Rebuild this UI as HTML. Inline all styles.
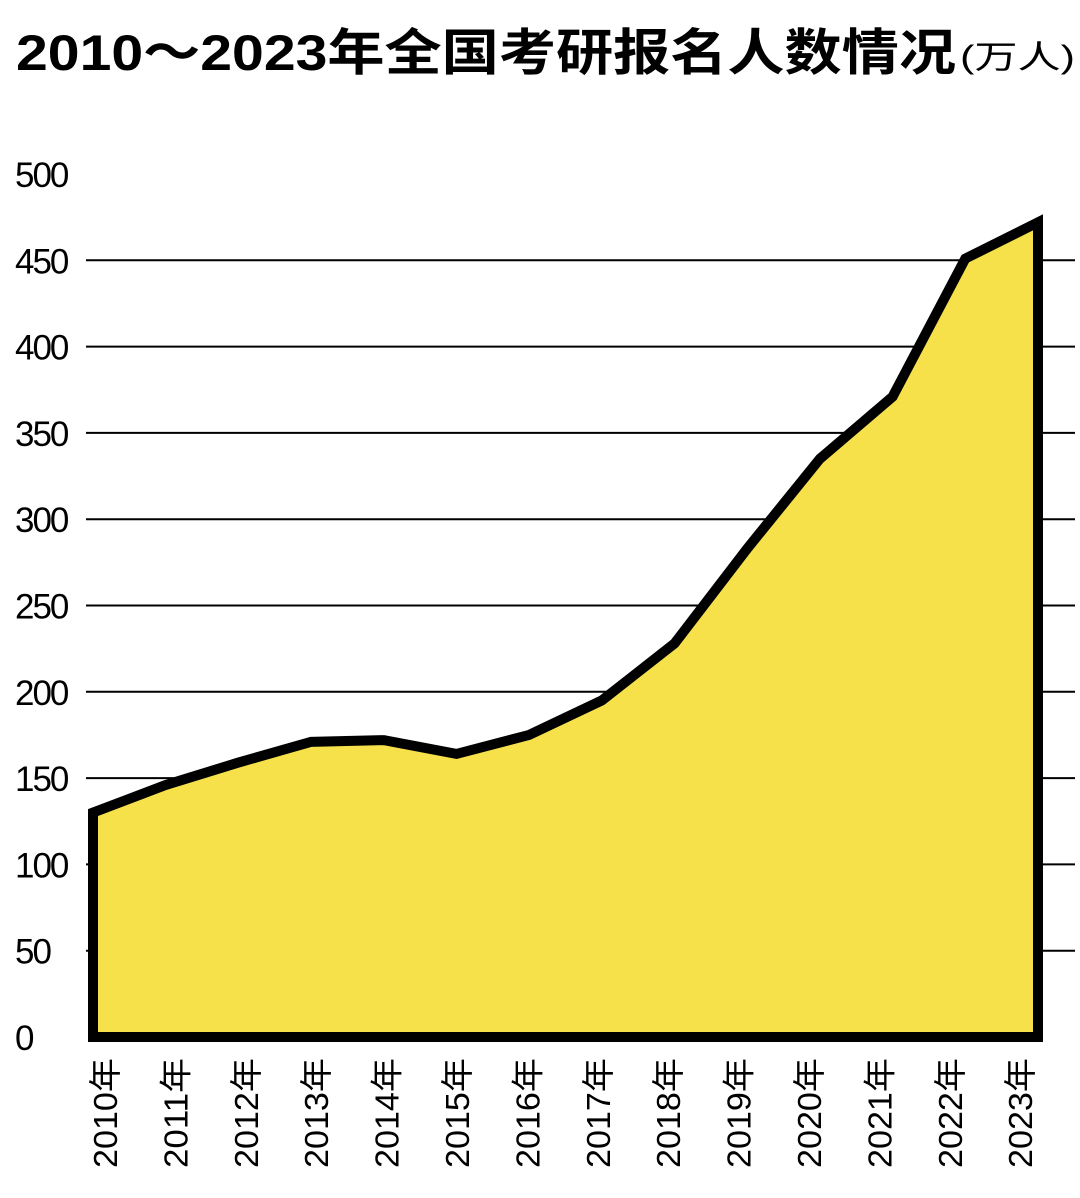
<!DOCTYPE html>
<html><head><meta charset="utf-8"><style>
html,body{margin:0;padding:0;background:#fff;width:1080px;height:1198px;overflow:hidden}
svg{display:block}
text{font-family:"Liberation Sans","Noto Sans CJK SC",sans-serif}
</style></head><body>
<svg id="chart" width="1080" height="1198" viewBox="0 0 1080 1198" xmlns="http://www.w3.org/2000/svg">
<text x="16" y="70" font-size="50" font-weight="bold" textLength="940" lengthAdjust="spacingAndGlyphs">2010～2023年全国考研报名人数情况</text>
<text x="960" y="68" font-size="32" textLength="115" lengthAdjust="spacingAndGlyphs">(万人)</text>
<g id="grid"></g>
<g id="area"></g>
<g id="yticks"></g>
<g id="xticks"></g>
</svg>
<script>
const categories = ["2010年","2011年","2012年","2013年","2014年","2015年","2016年","2017年","2018年","2019年","2020年","2021年","2022年","2023年"];
const values = [130,146,159,171,172,164,175,195,228,283,335,371,451,472];
const yTicks = [0,50,100,150,200,250,300,350,400,450,500];

const NS="http://www.w3.org/2000/svg";
const y0=1037, pxPerUnit=1.726;
const yScale=v=>y0-v*pxPerUnit;
const x0=93, x1=1038;
const xScale=i=>x0+i*(x1-x0)/(categories.length-1);
function mk(t,a){const e=document.createElementNS(NS,t);for(const k in a)e.setAttribute(k,a[k]);return e;}

const grid=document.getElementById('grid');
const yt=document.getElementById('yticks');
yTicks.forEach(v=>{
  const y=yScale(v);
  if(v>0&&v<500){
    const l=mk('line',{x1:86,x2:1075,y1:y,y2:y,stroke:'#000','stroke-width':2});
    
    
    grid.appendChild(l);
  }
  const t=mk('text',{x:15,y:y+13,'font-size':35,fill:'#000','letter-spacing':-2});
  
  
  t.textContent=v;
  yt.appendChild(t);
});

const area=document.getElementById('area');
let d='M'+x0+','+y0;
values.forEach((v,i)=>{d+=' L'+xScale(i)+','+yScale(v);});
d+=' L'+x1+','+y0+' Z';
const p=mk('path',{d:d,fill:'#F7E14B',stroke:'#000','stroke-width':10,'stroke-linejoin':'miter'});


area.appendChild(p);

const xt=document.getElementById('xticks');
categories.forEach((c,i)=>{
  const cx=105+i*70.4;
  const t=mk('text',{x:0,y:0,'font-size':33,fill:'#000',transform:'translate('+(cx+12)+',1168) rotate(-90)',textLength:110,lengthAdjust:'spacingAndGlyphs'});
  
  
  t.textContent=c;
  xt.appendChild(t);
});
</script>
</body></html>
